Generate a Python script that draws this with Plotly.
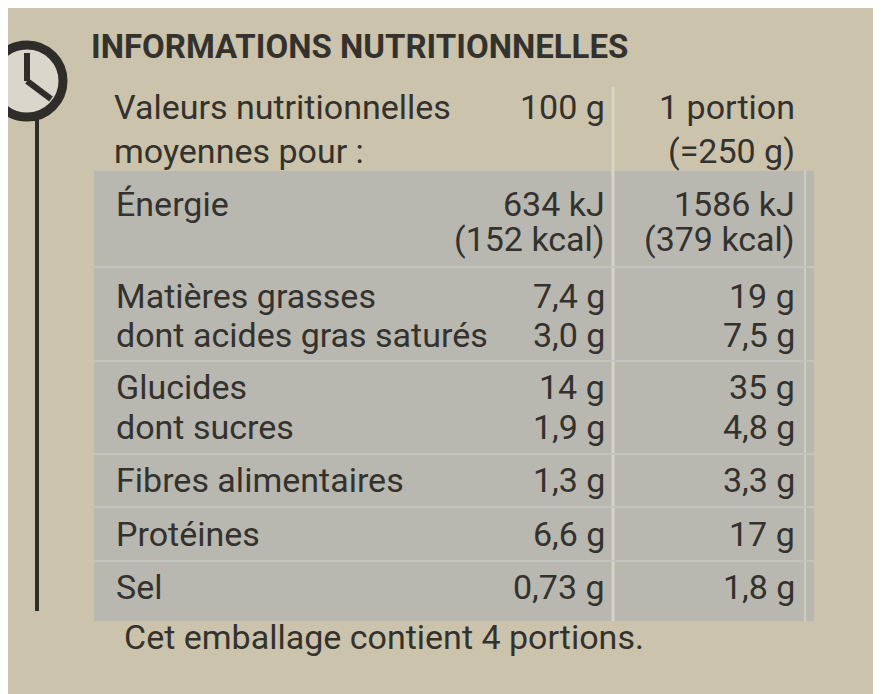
import plotly.graph_objects as go

# contenu de l'étiquette
titre = "INFORMATIONS NUTRITIONNELLES"
entete = ["Valeurs nutritionnelles", "moyennes pour :"]
entete_100g = ["100 g", ""]
entete_portion = ["1 portion", "(=250 g)"]
nutriments = ["Énergie", "", "Matières grasses", "dont acides gras saturés",
              "Glucides", "dont sucres", "Fibres alimentaires", "Protéines", "Sel"]
valeurs_100g = ["634 kJ", "(152 kcal)", "7,4 g", "3,0 g", "14 g", "1,9 g", "1,3 g", "6,6 g", "0,73 g"]
valeurs_portion = ["1586 kJ", "(379 kcal)", "19 g", "7,5 g", "35 g", "4,8 g", "3,3 g", "17 g", "1,8 g"]
pied = "Cet emballage contient 4 portions."

# position verticale (pixels) de chaque ligne
y_entete = [108, 152]
y_lignes = [205, 240, 297, 336, 388, 428, 481, 535, 588]

ink = "#34322e"
police = dict(family="Roboto", size=34, color=ink)
dec = 9  # décalage de la page

fig = go.Figure()

# fond et panneau gris
shapes = [
    dict(type="rect", x0=-20, x1=900, y0=-20, y1=720, fillcolor="#cbc3ab", line_width=0, layer="below"),
    dict(type="rect", x0=95, x1=815, y0=172, y1=622, fillcolor="#b8b7b0", line_width=0, layer="below"),
    dict(type="line", x0=614, x1=614, y0=88, y1=622, line=dict(color="#d8d4c6", width=3)),
    dict(type="line", x0=806, x1=806, y0=172, y1=622, line=dict(color="#cfccc2", width=2)),
]
for y in [268, 362, 455, 508, 562]:
    shapes.append(dict(type="line", x0=95, x1=815, y0=y, y1=y, line=dict(color="#c4c3bd", width=2)))
# horloge + trait vertical
shapes.append(dict(type="circle", x0=-8, x1=64, y0=46, y1=118, line=dict(color="#2e2d2a", width=9), fillcolor="#d9d6cc"))
shapes.append(dict(type="line", x0=28, x1=28, y0=82, y1=54, line=dict(color="#2e2d2a", width=6)))
shapes.append(dict(type="line", x0=28, x1=52, y0=82, y1=100, line=dict(color="#2e2d2a", width=6)))
shapes.append(dict(type="line", x0=38, x1=38, y0=118, y1=612, line=dict(color="#2e2d2a", width=4)))

ann = [dict(x=90, y=47, text=f"<b>{titre}</b>", xanchor="left",
            font=dict(family="Roboto", size=33, color=ink)),
       dict(x=123, y=638, text=pied, xanchor="left", font=police)]
for t, a, b, y in zip(entete, entete_100g, entete_portion, y_entete):
    ann += [dict(x=113, y=y, text=t, xanchor="left", font=police),
            dict(x=608, y=y, text=a, xanchor="right", font=police),
            dict(x=798, y=y, text=b, xanchor="right", font=police)]
for t, a, b, y in zip(nutriments, valeurs_100g, valeurs_portion, y_lignes):
    ann += [dict(x=115, y=y, text=t, xanchor="left", font=police),
            dict(x=608, y=y, text=a, xanchor="right", font=police),
            dict(x=798, y=y, text=b, xanchor="right", font=police)]
for a in ann:
    a.update(xref="x", yref="y", showarrow=False, yanchor="middle")

fig.update_layout(
    width=881, height=694, margin=dict(l=0, r=0, t=0, b=0),
    paper_bgcolor="#cbc3ab", plot_bgcolor="#cbc3ab",
    xaxis=dict(range=[dec, 881 + dec], visible=False, fixedrange=True),
    yaxis=dict(range=[694 + dec, dec], visible=False, fixedrange=True),
    shapes=shapes, annotations=ann, showlegend=False,
)
fig.write_html("out.html", config={"displayModeBar": False})
